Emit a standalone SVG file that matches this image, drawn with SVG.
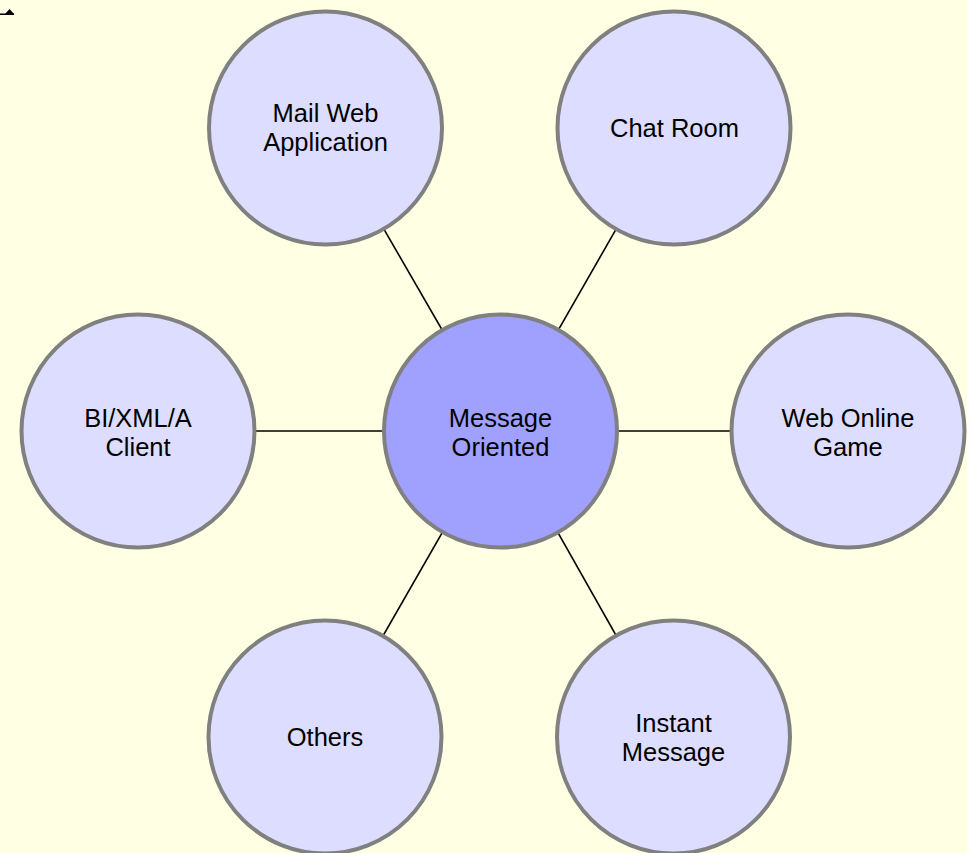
<svg xmlns="http://www.w3.org/2000/svg" width="967" height="853" viewBox="0 0 967 853">
  <style>
    .bubble { fill: #DDDDFF; stroke: #808080; stroke-width: 4; }
    .hub { fill: #A0A0FF; stroke: #808080; stroke-width: 4; }
    .label { font-family: "Liberation Sans", Arial, sans-serif; font-size: 25.5px; fill: #000000; text-anchor: middle; }
    .link { stroke: #000000; stroke-width: 1.6; fill: none; }
  </style>
  <rect x="0" y="0" width="967" height="853" fill="#FFFFE3"/>

  <!-- small corner marker -->
  <g id="corner-mark" fill="#000000">
    <rect x="0" y="13.5" width="14" height="1.5"/>
    <path d="M5 14 L9.5 9 L14 14 Z"/>
  </g>

  <!-- spokes from the hub to each satellite -->
  <g id="connectors">
    <line class="link" x1="500.5" y1="431" x2="325.5" y2="128"/>
    <line class="link" x1="500.5" y1="431" x2="674" y2="128"/>
    <line class="link" x1="500.5" y1="431" x2="138" y2="431"/>
    <line class="link" x1="500.5" y1="431" x2="848" y2="431"/>
    <line class="link" x1="500.5" y1="431" x2="325" y2="737"/>
    <line class="link" x1="500.5" y1="431" x2="673.5" y2="737"/>
  </g>

  <g id="node-hub">
    <circle class="hub" cx="500.5" cy="431" r="116.5"/>
    <text class="label" x="500.5" y="427">Message</text>
    <text class="label" x="500.5" y="456">Oriented</text>
  </g>

  <g id="node-mail">
    <circle class="bubble" cx="325.5" cy="128" r="116.5"/>
    <text class="label" x="325.5" y="122">Mail Web</text>
    <text class="label" x="325.5" y="151">Application</text>
  </g>

  <g id="node-chat">
    <circle class="bubble" cx="674" cy="128" r="116.5"/>
    <text class="label" x="674.5" y="137">Chat Room</text>
  </g>

  <g id="node-bi">
    <circle class="bubble" cx="138" cy="431" r="116.5"/>
    <text class="label" x="138" y="427">BI/XML/A</text>
    <text class="label" x="138" y="456">Client</text>
  </g>

  <g id="node-game">
    <circle class="bubble" cx="848" cy="431" r="116.5"/>
    <text class="label" x="848" y="427">Web Online</text>
    <text class="label" x="848" y="456">Game</text>
  </g>

  <g id="node-others">
    <circle class="bubble" cx="325" cy="737" r="116.5"/>
    <text class="label" x="325" y="746">Others</text>
  </g>

  <g id="node-im">
    <circle class="bubble" cx="673.5" cy="737" r="116.5"/>
    <text class="label" x="673.5" y="732">Instant</text>
    <text class="label" x="673.5" y="761">Message</text>
  </g>
</svg>
